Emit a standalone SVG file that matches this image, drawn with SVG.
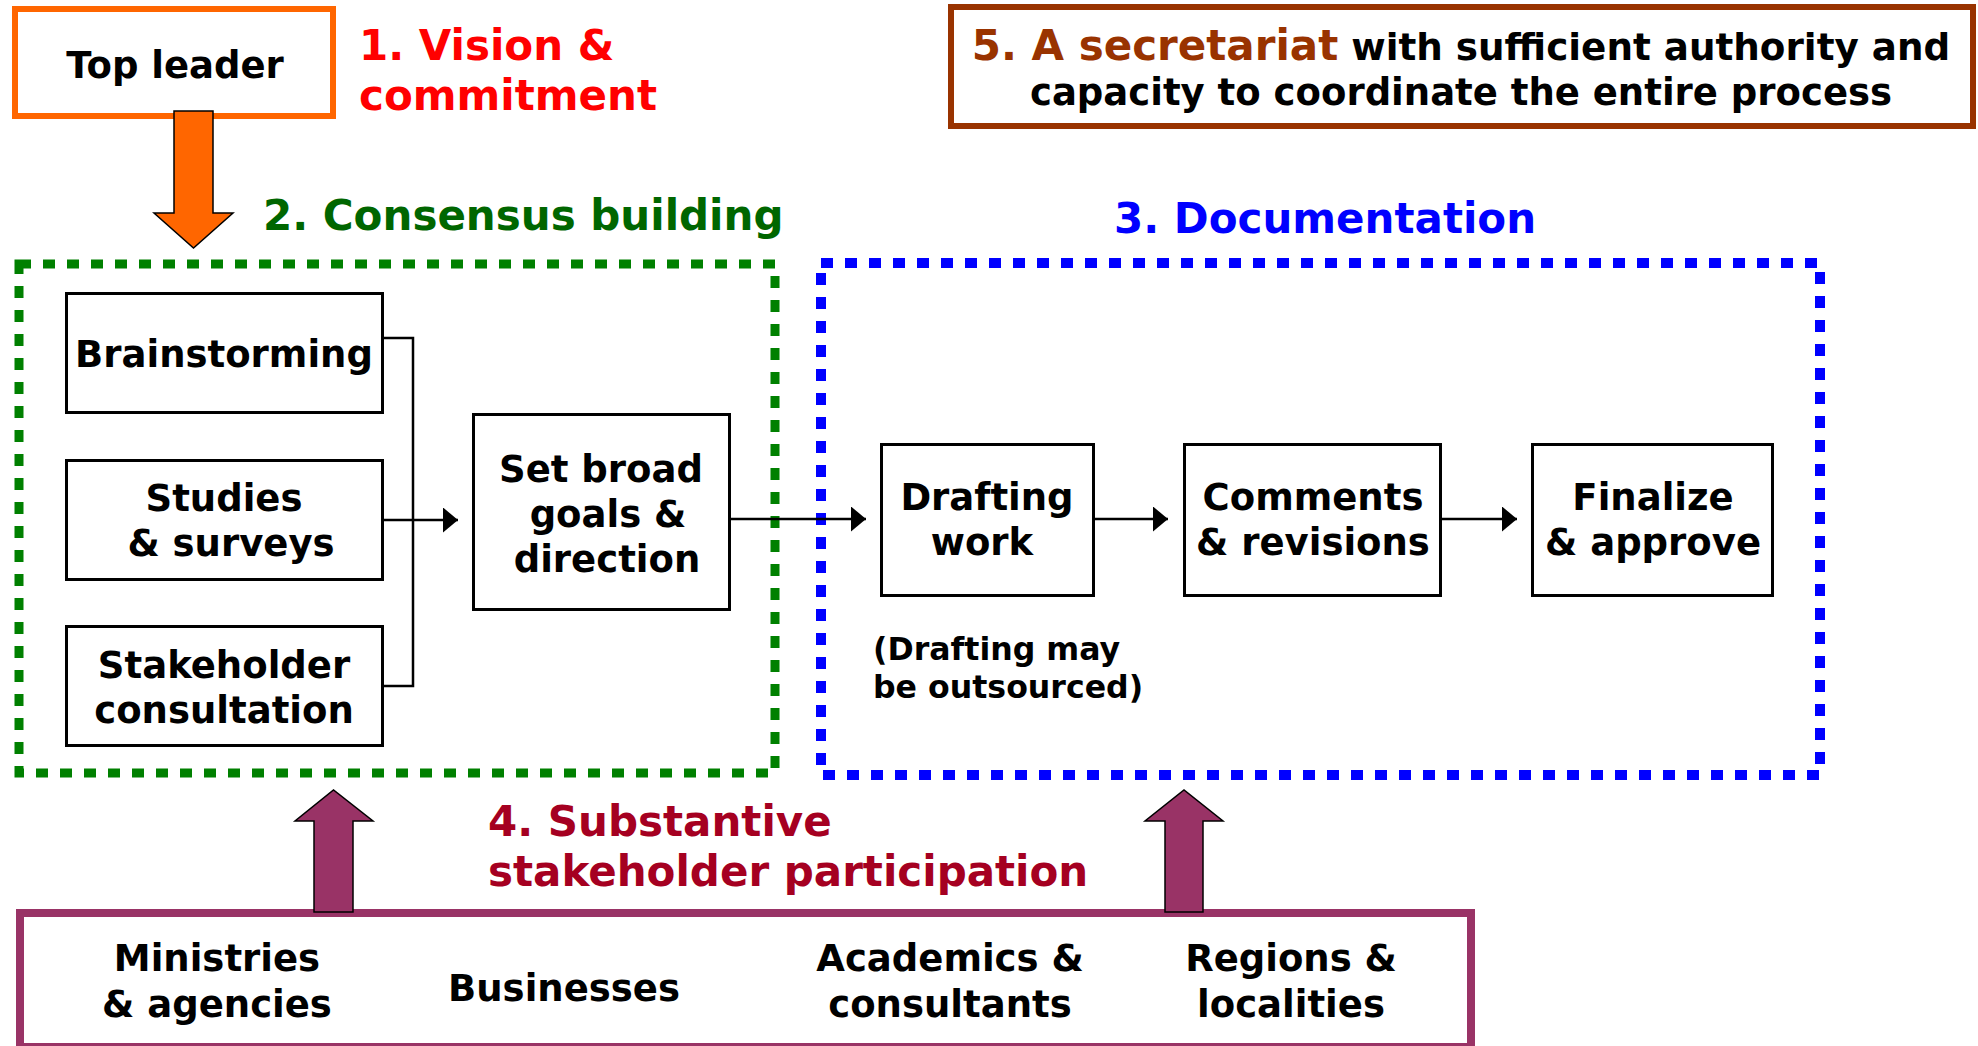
<svg xmlns="http://www.w3.org/2000/svg" width="1978" height="1046" viewBox="0 0 1978 1046">
<style>
text{font-family:"DejaVu Sans","Verdana",sans-serif;font-weight:bold;}
.t{font-size:37px;fill:#000;text-anchor:middle;}
.h{font-size:42px;}
.box{fill:#fff;stroke:#000;stroke-width:3;}
.conn{fill:none;stroke:#000;stroke-width:2.5;}
.bigarrow{stroke:#000;stroke-width:1.5;}
</style>
<defs>
<marker id="ah" markerUnits="userSpaceOnUse" markerWidth="16" markerHeight="26" refX="15" refY="12.5" orient="auto">
<path d="M0,0 L15,12.5 L0,25 Z" fill="#000"/>
</marker>
</defs>
<rect width="1978" height="1046" fill="#fff"/>

<g id="consensus-frame">
<rect x="19" y="264" width="756" height="509" fill="none" stroke="#008000" stroke-width="9" stroke-dasharray="12 12"/>
<text class="h" x="263" y="230" fill="#006600">2. Consensus building</text>
</g>
<g id="documentation-frame">
<rect x="821" y="263" width="999" height="512" fill="none" stroke="#0000FF" stroke-width="10" stroke-dasharray="12 12"/>
<text class="h" x="1114" y="233" fill="#0000FF">3. Documentation</text>
</g>

<g id="top-leader">
<rect x="15" y="9" width="318" height="107" fill="#fff" stroke="#FF6600" stroke-width="6"/>
<text class="t" x="175" y="78">Top leader</text>
</g>
<g id="vision-label">
<text class="h" fill="#FF0000"><tspan x="359" y="60">1. Vision &amp;</tspan><tspan x="359" y="110">commitment</tspan></text>
</g>

<g id="secretariat">
<rect x="951" y="7" width="1022" height="119" fill="#fff" stroke="#993300" stroke-width="6"/>
<text x="1461" y="60" text-anchor="middle"><tspan font-size="42" fill="#993300">5. A secretariat</tspan><tspan font-size="37.3" fill="#000"> with sufficient authority and</tspan></text>
<text class="t" x="1461" y="105">capacity to coordinate the entire process</text>
</g>

<g id="brainstorming">
<rect class="box" x="66.5" y="293.5" width="316" height="119"/>
<text class="t" x="224" y="367">Brainstorming</text>
</g>
<g id="studies">
<rect class="box" x="66.5" y="460.5" width="316" height="119"/>
<text class="t"><tspan x="224" y="511">Studies</tspan><tspan x="231" y="556">&amp; surveys</tspan></text>
</g>
<g id="stakeholder-consultation">
<rect class="box" x="66.5" y="626.5" width="316" height="119"/>
<text class="t"><tspan x="224" y="678">Stakeholder</tspan><tspan x="224" y="723">consultation</tspan></text>
</g>
<g id="set-goals">
<rect class="box" x="473.5" y="414.5" width="256" height="195"/>
<text class="t"><tspan x="601" y="482">Set broad</tspan><tspan x="608" y="527">goals &amp;</tspan><tspan x="607" y="572">direction</tspan></text>
</g>
<g id="drafting">
<rect class="box" x="881.5" y="444.5" width="212" height="151"/>
<text class="t"><tspan x="987" y="510">Drafting</tspan><tspan x="982" y="555">work</tspan></text>
</g>
<g id="comments">
<rect class="box" x="1184.5" y="444.5" width="256" height="151"/>
<text class="t"><tspan x="1313" y="510">Comments</tspan><tspan x="1313" y="555">&amp; revisions</tspan></text>
</g>
<g id="finalize">
<rect class="box" x="1532.5" y="444.5" width="240" height="151"/>
<text class="t"><tspan x="1653" y="510">Finalize</tspan><tspan x="1653" y="555">&amp; approve</tspan></text>
</g>
<g id="drafting-note">
<text font-size="31.6" fill="#000"><tspan x="873" y="660">(Drafting may</tspan><tspan x="873" y="698">be outsourced)</tspan></text>
</g>

<g id="stakeholders">
<rect x="20" y="913" width="1451" height="134" fill="#fff" stroke="#993366" stroke-width="8"/>
<text class="t"><tspan x="217" y="971">Ministries</tspan><tspan x="217" y="1017">&amp; agencies</tspan></text>
<text class="t" x="564" y="1001">Businesses</text>
<text class="t"><tspan x="950" y="971">Academics &amp;</tspan><tspan x="950" y="1017">consultants</tspan></text>
<text class="t"><tspan x="1291" y="971">Regions &amp;</tspan><tspan x="1291" y="1017">localities</tspan></text>
</g>
<g id="participation-label">
<text class="h" fill="#A50021"><tspan x="488" y="836">4. Substantive</tspan><tspan x="488" y="886">stakeholder participation</tspan></text>
</g>

<g id="connectors">
<path class="conn" d="M384,338 H413 V686 H384" stroke-width="2"/>
<path class="conn" d="M384,520 H458" marker-end="url(#ah)"/>
<path class="conn" d="M731,519 H866" marker-end="url(#ah)"/>
<path class="conn" d="M1095,519 H1168" marker-end="url(#ah)"/>
<path class="conn" d="M1442,519 H1517" marker-end="url(#ah)"/>
<path class="bigarrow" fill="#FF6600" d="M174,111 H213 V213 H233 L193.5,248 L154,213 H174 Z"/>
<path class="bigarrow" fill="#993366" d="M314,912 V821 H295 L333.5,790 L373,821 H353 V912 Z"/>
<path class="bigarrow" fill="#993366" d="M1165,912 V821 H1145 L1184,790 L1223,821 H1203 V912 Z"/>
</g>
</svg>
